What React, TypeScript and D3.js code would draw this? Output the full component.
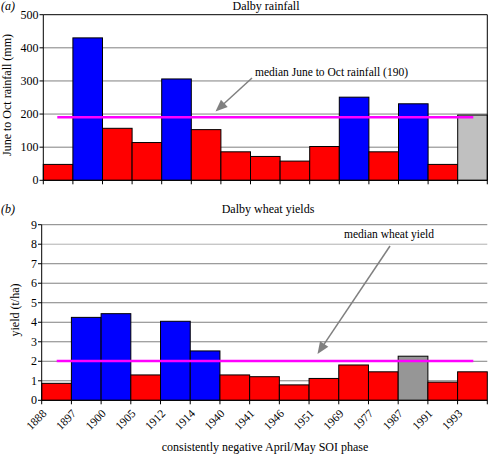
import React from "react";
import * as d3 from "d3";

const years = ["1888","1897","1900","1905","1912","1914","1940","1941","1946","1951","1969","1977","1987","1991","1993"];
const rainfall = [48, 430, 157, 114, 306, 153, 86, 72, 58, 102, 251, 86, 231, 48, 197];
const rainClass = ["r","b","r","r","b","r","r","r","r","r","b","r","b","r","g"];
const yieldVals = [0.87, 4.25, 4.44, 1.30, 4.05, 2.53, 1.30, 1.21, 0.79, 1.12, 1.81, 1.46, 2.26, 0.93, 1.46];
const yieldClass = ["r","b","b","r","b","b","r","r","r","r","r","r","g","r","r"];
const rainTicks = [0, 100, 200, 300, 400, 500];
const yieldTicks = [0, 1, 2, 3, 4, 5, 6, 7, 8, 9];
const rainMedian = 190;
const yieldMedian = 2.02;

const FONT = "'Liberation Serif', 'Times New Roman', serif";

function arrowPath(x1: number, y1: number, x2: number, y2: number, len = 12, hw = 5) {
  const dx = x2 - x1, dy = y2 - y1;
  const L = Math.hypot(dx, dy);
  const ux = dx / L, uy = dy / L;
  const bx = x2 - ux * len, by = y2 - uy * len;
  const px = -uy, py = ux;
  return {
    line: [x1, y1, bx + ux * 1, by + uy * 1],
    head: `M${x2},${y2}L${bx + px * hw},${by + py * hw}L${bx - px * hw},${by - py * hw}Z`,
  };
}

export default function App() {
  const W = 488, H = 454;
  // top chart
  const tx = d3.scaleBand<number>().domain(d3.range(years.length)).range([43.3, 487.3]).padding(0);
  const ty = d3.scaleLinear().domain([0, 500]).range([180.3, 14.7]);
  // bottom chart
  const bx = d3.scaleBand<number>().domain(d3.range(years.length)).range([41.7, 487.3]).padding(0);
  const by = d3.scaleLinear().domain([0, 9]).range([400.3, 224.7]);

  const rainColor: Record<string, string> = { r: "#ff0000", b: "#0000ff", g: "#c0c0c0" };
  const yieldColor: Record<string, string> = { r: "#ff0000", b: "#0000ff", g: "#969696" };

  const a1 = arrowPath(252, 78, 215.5, 111.5);
  const a2 = arrowPath(390, 246, 317.5, 354);

  const boundsTop = d3.range(years.length + 1).map((i) => (i < years.length ? tx(i)! : tx.range()[1]));
  const boundsBot = d3.range(years.length + 1).map((i) => (i < years.length ? bx(i)! : bx.range()[1]));

  return (
    <div style={{ position: "fixed", left: 0, top: 0 }}>
      <svg width={W} height={H} style={{ display: "block", background: "#fff" }} fontFamily={FONT}>
        {/* ===== Top chart ===== */}
        <text x={1} y={10} fontSize={12} fontStyle="italic">(a)</text>
        <text x={266} y={10} fontSize={12} textAnchor="middle">Dalby rainfall</text>
        {rainTicks.slice(1, -1).map((t) => (
          <line key={t} x1={43.3} x2={487.3} y1={ty(t)} y2={ty(t)} stroke="#808080" strokeWidth={1} />
        ))}
        {rainfall.map((v, i) => (
          <rect key={i} x={tx(i)} y={ty(v)} width={tx.bandwidth()} height={ty(0) - ty(v)}
            fill={rainColor[rainClass[i]]} stroke="#000" strokeWidth={1} />
        ))}
        <line x1={43.3} x2={487.3} y1={ty(500)} y2={ty(500)} stroke="#000" strokeWidth={1} />
        <line x1={487.3} x2={487.3} y1={ty(500)} y2={ty(0)} stroke="#000" strokeWidth={1} />
        <line x1={43.3} x2={43.3} y1={ty(500)} y2={ty(0)} stroke="#000" strokeWidth={1} />
        <line x1={43.3} x2={487.3} y1={ty(0)} y2={ty(0)} stroke="#000" strokeWidth={1} />
        {rainTicks.map((t) => (
          <g key={t}>
            <line x1={39.5} x2={43.3} y1={ty(t)} y2={ty(t)} stroke="#000" />
            <text x={38.5} y={ty(t) + 4} fontSize={12} textAnchor="end">{t}</text>
          </g>
        ))}
        {boundsTop.map((x, i) => (
          <line key={i} x1={x} x2={x} y1={ty(0)} y2={ty(0) + 4} stroke="#000" />
        ))}
        <line x1={57.3} x2={473.3} y1={ty(rainMedian)} y2={ty(rainMedian)} stroke="#ff00ff" strokeWidth={2.5} />
        <text transform={`translate(11,95) rotate(-90)`} fontSize={12} textAnchor="middle">June to Oct rainfall (mm)</text>
        <text x={255} y={76} fontSize={11.5}>median June to Oct rainfall (190)</text>
        <line x1={a1.line[0]} y1={a1.line[1]} x2={a1.line[2]} y2={a1.line[3]} stroke="#808080" strokeWidth={1.5} />
        <path d={a1.head} fill="#808080" />

        {/* ===== Bottom chart ===== */}
        <text x={1} y={213} fontSize={12} fontStyle="italic">(b)</text>
        <text x={268} y={213} fontSize={12} textAnchor="middle">Dalby wheat yields</text>
        {yieldTicks.slice(1).map((t) => (
          <line key={t} x1={41.7} x2={487.3} y1={by(t)} y2={by(t)} stroke={t === 8 ? "#b0b0b0" : "#808080"} strokeWidth={1} />
        ))}
        {yieldVals.map((v, i) => (
          <rect key={i} x={bx(i)} y={by(v)} width={bx.bandwidth()} height={by(0) - by(v)}
            fill={yieldColor[yieldClass[i]]} stroke="#000" strokeWidth={1} />
        ))}
        <line x1={41.7} x2={41.7} y1={by(9)} y2={by(0)} stroke="#000" strokeWidth={1} />
        <line x1={41.7} x2={487.3} y1={by(0)} y2={by(0)} stroke="#000" strokeWidth={1} />
        {yieldTicks.map((t) => (
          <g key={t}>
            <line x1={38} x2={41.7} y1={by(t)} y2={by(t)} stroke="#000" />
            <text x={37} y={by(t) + 4} fontSize={12} textAnchor="end">{t}</text>
          </g>
        ))}
        {boundsBot.map((x, i) => (
          <line key={i} x1={x} x2={x} y1={by(0)} y2={by(0) + 4} stroke="#000" />
        ))}
        {years.map((yr, i) => (
          <text key={yr} transform={`translate(${boundsBot[i] + 5.5},${by(0) + 14}) rotate(-45)`} fontSize={11.5} textAnchor="end">{yr}</text>
        ))}
        <line x1={56.7} x2={473.3} y1={by(yieldMedian)} y2={by(yieldMedian)} stroke="#ff00ff" strokeWidth={2.5} />
        <text transform={`translate(19,310) rotate(-90)`} fontSize={12} textAnchor="middle">yield (t/ha)</text>
        <text x={389} y={238} fontSize={11.5} textAnchor="middle">median wheat yield</text>
        <line x1={a2.line[0]} y1={a2.line[1]} x2={a2.line[2]} y2={a2.line[3]} stroke="#808080" strokeWidth={1.5} />
        <path d={a2.head} fill="#808080" />
        <text x={265} y={451} fontSize={12} textAnchor="middle">consistently negative April/May SOI phase</text>
      </svg>
    </div>
  );
}
